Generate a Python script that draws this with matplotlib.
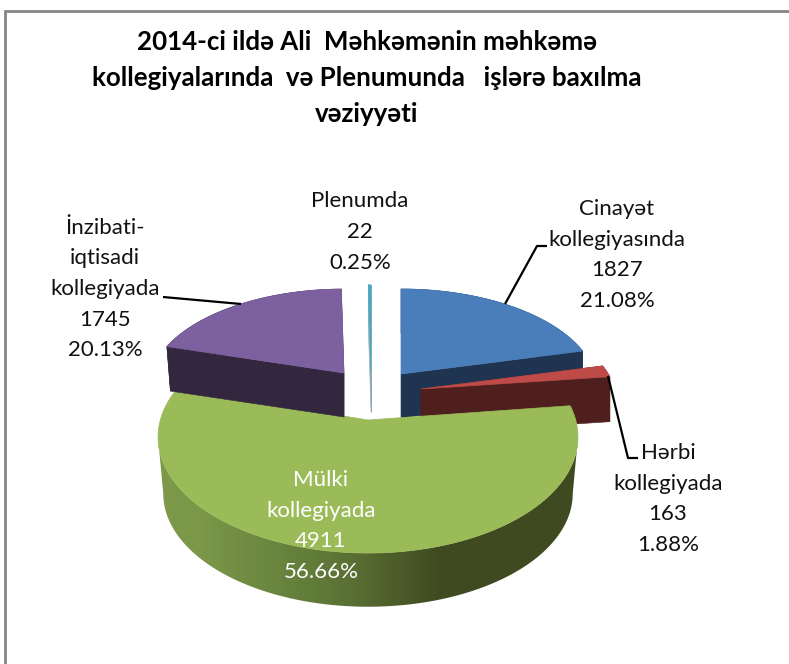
import numpy as np
import matplotlib
matplotlib.use("Agg")
import matplotlib.pyplot as plt
from matplotlib.patches import Polygon
from matplotlib.colors import LinearSegmentedColormap

title = "2014-ci ildə Ali  Məhkəmənin məhkəmə\nkollegiyalarında  və Plenumunda   işlərə baxılma\nvəziyyəti"
names = ["Cinayət\nkollegiyasında", "Hərbi\nkollegiyada", "Mülki\nkollegiyada",
         "İnzibati-\niqtisadi\nkollegiyada", "Plenumda"]
values = [1827, 163, 4911, 1745, 22]
top_colors = ["#4A7EBB", "#BE4B48", "#9BBB59", "#7D60A0", "#46AAC4"]
side_colors = ["#1E3450", "#4F1F1E", "#3F4A20", "#33273F", "#8FAAB2"]
# slice placement on the page: centre x, centre y, radius x, radius y, wall depth, wall scale
placement = [(401, 374, 194, 97.5, 44, 1.0), (421, 389, 194, 98, 45, 1.0),
             (368, 420, 207.7, 113.5, 57, 0.975), (344, 373, 192.6, 96.3, 44, 0.98),
             (371, 372, 195, 100, 40, 1.0)]
persp = 0.147
label_pos = [(617, 255), (668, 499), (321, 526), (105, 289), (360, 232)]
label_col = ["#111111", "#111111", "white", "#111111", "#111111"]
leaders = [[(505, 304), (537, 246), (547, 246)], [(608, 376), (628, 458), (638, 458)],
           [(241, 304), (163, 297)]]

fs = 16.0
plt.rcParams["font.family"] = ["Lato", "Open Sans", "DejaVu Sans"]
fig = plt.figure(figsize=(7.89, 6.64), dpi=100, facecolor="white")
ax = fig.add_axes([0, 0, 1, 1])
ax.set_xlim(0, 789)
ax.set_ylim(664, 0)
ax.axis("off")


def rim(t, cx, cy, rx, ry, dy=0.0, sc=1.0):
    w = 1 + persp * np.sin(t)
    return np.column_stack([cx + sc * rx * np.cos(t) / w, cy + dy - sc * ry * np.sin(t) / w])


angles = 90 - np.concatenate([[0], np.cumsum(values)]) / sum(values) * 360
order = [0, 4, 3, 1, 2]
for i in order:
    cx, cy, rx, ry, d, sc = placement[i]
    a0, a1 = np.radians(angles[i]), np.radians(angles[i + 1])
    t = np.linspace(a0, a1, 200)
    top = rim(t, cx, cy, rx, ry)
    if i == 2:
        tw = np.linspace(-np.arcsin(persp), -np.pi + np.arcsin(persp), 200)
        wall = np.vstack([rim(tw, cx, cy, rx, ry), rim(tw, cx, cy, rx, ry, d, sc)[::-1]])
        poly = Polygon(wall, closed=True, fc="none", ec="none", zorder=i + 1)
        ax.add_patch(poly)
        xs = [0, 200, 300, 350, 440, 789]
        cmap = LinearSegmentedColormap.from_list("wall", [(x / 789, c) for x, c in zip(
            xs, ["#82A04B", "#7B9748", "#647F3B", "#5A7034", "#3F4A20", "#3F4A20"])])
        im = ax.imshow(np.linspace(0, 1, 789)[None, :], extent=(0, 789, 664, 0), aspect="auto",
                       cmap=cmap, zorder=i + 1)
        im.set_clip_path(poly)
        ax.set_xlim(0, 789)
        ax.set_ylim(664, 0)
    else:
        wall = np.vstack([top, rim(t, cx, cy, rx, ry, d, sc)[::-1]])
        ax.add_patch(Polygon(wall, closed=True, fc=side_colors[i], ec=side_colors[i], lw=0.4, zorder=i + 1))
        for a in (a0, a1):
            e = rim(np.array([a]), cx, cy, rx, ry)[0]
            f = rim(np.array([a]), cx, cy, rx, ry, d, sc)[0]
            ax.add_patch(Polygon([(cx, cy), e, f, (cx, cy + d)], closed=True,
                                 fc=side_colors[i], ec=side_colors[i], lw=0.4, zorder=i + 1))
    ax.add_patch(Polygon(np.vstack([[cx, cy], top]), closed=True, fc=top_colors[i],
                         ec=top_colors[i], lw=0.5, zorder=i + 1.5))

for pts in leaders:
    xy = np.array(pts)
    ax.plot(xy[:, 0], xy[:, 1], color="black", lw=1.6, zorder=8, solid_capstyle="butt")

for name, v, (x, y), c in zip(names, values, label_pos, label_col):
    pct = v / sum(values) * 100
    ax.text(x, y, f"{name}\n{v}\n{pct:.2f}%", color=c, fontsize=fs, ha="center", va="center",
            linespacing=1.66, zorder=9, multialignment="center")

ax.text(367, 78, title, fontsize=18.6, fontweight="bold", ha="center", va="center",
        linespacing=1.62, color="black", zorder=9)

ax.plot([5.5, 5.5, 789], [664, 11, 11], color="#868686", lw=2, zorder=10, solid_joinstyle="miter")
fig.savefig("out.png", dpi=100, facecolor="white")
